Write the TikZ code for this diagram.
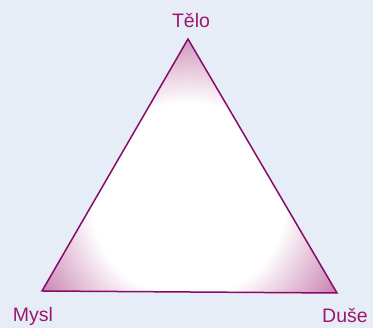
\documentclass[tikz,border=0pt]{standalone}
\usepackage{fontspec}
\setmainfont{Liberation Sans}
\definecolor{bgblue}{HTML}{E6EDF6}
\definecolor{rim}{HTML}{860C68}
\definecolor{label}{HTML}{9C1870}
\definecolor{corner}{HTML}{C47AAA}
\pgfdeclareradialshading{glow}{\pgfpoint{0bp}{0bp}}{rgb(0bp)=(1,1,1); rgb(97bp)=(1,1,1); rgb(178bp)=(0.77,0.48,0.67)}
\begin{document}
\begin{tikzpicture}[x=1pt, y=1pt,
    lbl/.style={text=label, font=\fontsize{19.5}{22}\selectfont, anchor=base}]
  \fill[bgblue] (0,0) rectangle (373,328);
  \useasboundingbox (0,0) rectangle (373,328);
  \coordinate (T) at (188,289); % Vrchol nahoře
  \coordinate (M) at (42,37);   % Levý dolní roh
  \coordinate (D) at (337,35);  % Pravý dolní roh
  % Výplň trojúhelníku
  \begin{scope}
    \clip (T) -- (M) -- (D) -- cycle;
    \fill[corner] (T) -- (M) -- (D) -- cycle;
    \node[inner sep=0pt] (glow) at (188,128) {\pgfuseshading{glow}};
  \end{scope}
  \draw[rim, line width=1.5pt] (T) -- (M) -- (D) -- cycle;
  % Popisky
  \node[lbl] (telo) at (191,300.5) {Tělo};
  \node[lbl] (mysl) at (33,6) {Mysl};
  \node[lbl] (duse) at (345,5) {Duše};
\end{tikzpicture}
\end{document}
